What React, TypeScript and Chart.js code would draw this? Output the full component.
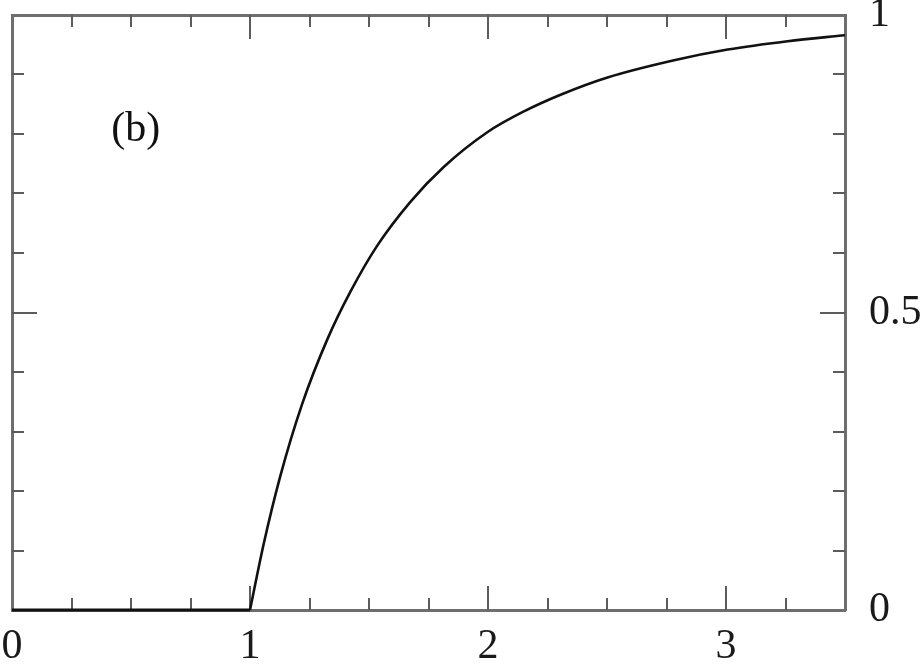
import React, { useEffect, useRef } from "react";
import { Chart, registerables } from "chart.js";

Chart.register(...registerables);

// Flat part of the curve (zero below threshold)
const flatX = [0, 1];
const flatY = [0, 0];

// Rising part of the curve
const curveX = [1, 1.057, 1.127, 1.219, 1.324, 1.422, 1.534, 1.674, 1.815, 1.997, 2.151, 2.305, 2.502, 2.782, 3.007, 3.259, 3.5];
const curveY = [0, 0.11, 0.2245, 0.346, 0.454, 0.535, 0.612, 0.686, 0.745, 0.803, 0.838, 0.866, 0.895, 0.924, 0.942, 0.956, 0.966];

// Axis ranges and ticks
const xRange = [0, 3.5];
const yRange = [0, 1];
const xTickLabels = [0, 1, 2, 3];
const yTickLabels = [0, 0.5, 1];
const xMinorStep = 0.25;
const yMinorStep = 0.1;

const panelLabel = "(b)";
const panelLabelPos = { x: 0.52, y: 0.806 };

const FONT = '"Liberation Serif", "Times New Roman", serif';

const inwardTicks = {
  id: "inwardTicks",
  beforeDatasetsDraw(chart: any) {
    const { ctx, chartArea: a, scales } = chart;
    const xs = scales.x;
    const ys = scales.y;
    ctx.save();
    ctx.strokeStyle = "#5c5c5c";
    ctx.lineWidth = 2;
    const nx = Math.round((xRange[1] - xRange[0]) / xMinorStep);
    for (let i = 1; i < nx; i++) {
      const v = xRange[0] + i * xMinorStep;
      const px = Math.round(xs.getPixelForValue(v));
      const major = xTickLabels.some((t) => Math.abs(t - v) < 1e-6);
      const len = major ? 24 : 12;
      ctx.beginPath();
      ctx.moveTo(px, a.bottom);
      ctx.lineTo(px, a.bottom - len);
      ctx.moveTo(px, a.top);
      ctx.lineTo(px, a.top + len);
      ctx.stroke();
    }
    const ny = Math.round((yRange[1] - yRange[0]) / yMinorStep);
    for (let i = 1; i < ny; i++) {
      const v = yRange[0] + i * yMinorStep;
      const py = Math.round(ys.getPixelForValue(v));
      const major = yTickLabels.some((t) => Math.abs(t - v) < 1e-6);
      const len = major ? 25 : 12;
      ctx.beginPath();
      ctx.moveTo(a.left, py);
      ctx.lineTo(a.left + len, py);
      ctx.moveTo(a.right, py);
      ctx.lineTo(a.right - len, py);
      ctx.stroke();
    }
    ctx.restore();
  },
  afterDraw(chart: any) {
    const { ctx, scales } = chart;
    ctx.save();
    ctx.font = `42px ${FONT}`;
    ctx.fillStyle = "#111";
    ctx.textAlign = "center";
    ctx.textBaseline = "middle";
    ctx.fillText(
      panelLabel,
      scales.x.getPixelForValue(panelLabelPos.x),
      scales.y.getPixelForValue(panelLabelPos.y)
    );
    ctx.restore();
  },
};

const zeroPad = (s: any) => {
  s.paddingTop = 0;
  s.paddingBottom = 0;
  s.paddingLeft = 0;
  s.paddingRight = 0;
};

export default function App() {
  const ref = useRef<HTMLCanvasElement | null>(null);

  useEffect(() => {
    if (!ref.current) return;
    const border = { display: true, color: "#6e6e6e", width: 3 };
    const chart = new Chart(ref.current, {
      type: "scatter",
      data: {
        datasets: [
          {
            data: flatX.map((x, i) => ({ x, y: flatY[i] })),
            showLine: true,
            borderColor: "#111",
            borderWidth: 3,
            pointRadius: 0,
            clip: false as any,
          },
          {
            data: curveX.map((x, i) => ({ x, y: curveY[i] })),
            showLine: true,
            borderColor: "#111",
            borderWidth: 2.6,
            pointRadius: 0,
            cubicInterpolationMode: "monotone",
            clip: false as any,
          },
        ],
      },
      options: {
        responsive: false,
        animation: false,
        events: [],
        layout: { padding: 0 },
        plugins: {
          legend: { display: false },
          tooltip: { enabled: false },
          title: { display: false },
        },
        scales: {
          x: {
            type: "linear",
            position: "bottom",
            min: xRange[0],
            max: xRange[1],
            afterBuildTicks: (s: any) => {
              s.ticks = xTickLabels.map((v) => ({ value: v }));
            },
            afterFit: (s: any) => {
              s.height = 56;
              zeroPad(s);
            },
            ticks: {
              autoSkip: false,
              maxRotation: 0,
              padding: 12,
              color: "#1a1a1a",
              font: { family: FONT, size: 42, lineHeight: 1.2 },
              callback: (v: any) => String(v),
            },
            grid: { display: false, drawTicks: false },
            border,
          },
          x2: {
            type: "linear",
            axis: "x",
            position: "top",
            min: xRange[0],
            max: xRange[1],
            afterFit: (s: any) => {
              s.height = 15;
              zeroPad(s);
            },
            ticks: { display: false },
            grid: { display: false, drawTicks: false },
            border,
          },
          y: {
            type: "linear",
            position: "right",
            min: yRange[0],
            max: yRange[1],
            afterBuildTicks: (s: any) => {
              s.ticks = yTickLabels.map((v) => ({ value: v }));
            },
            afterFit: (s: any) => {
              s.width = 78;
              zeroPad(s);
            },
            ticks: {
              autoSkip: false,
              padding: 24,
              color: "#1a1a1a",
              font: { family: FONT, size: 42, lineHeight: 1.2 },
              callback: (v: any) => String(v),
            },
            grid: { display: false, drawTicks: false },
            border,
          },
          y2: {
            type: "linear",
            axis: "y",
            position: "left",
            min: yRange[0],
            max: yRange[1],
            afterFit: (s: any) => {
              s.width = 12;
              zeroPad(s);
            },
            ticks: { display: false },
            grid: { display: false, drawTicks: false },
            border,
          },
        },
      } as any,
      plugins: [inwardTicks],
    });
    return () => chart.destroy();
  }, []);

  return (
    <div style={{ position: "absolute", left: 0, top: 0, width: 923, height: 666, background: "#fff" }}>
      <canvas ref={ref} width={923} height={666} style={{ display: "block" }} />
    </div>
  );
}
